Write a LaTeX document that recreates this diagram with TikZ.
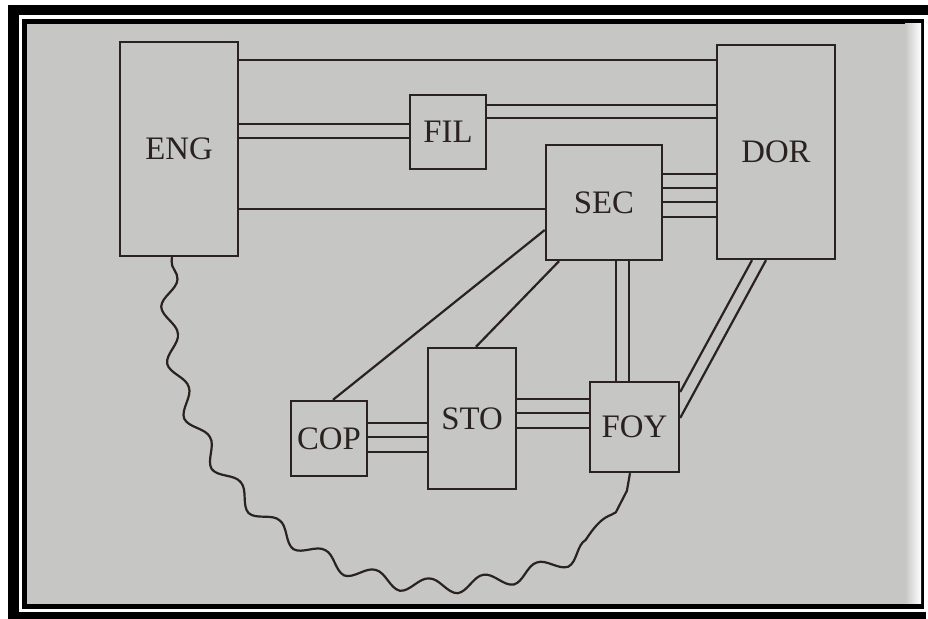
\documentclass[tikz,border=0pt]{standalone}
\usepackage{fontspec}
\setmainfont{Liberation Serif}
\usepackage{tikz}
\usetikzlibrary{decorations.pathmorphing}
\definecolor{paper}{RGB}{198,198,196}
\definecolor{ink}{RGB}{42,34,30}

\begin{document}
\begin{tikzpicture}[x=0.5pt,y=-0.5pt,
  room/.style={draw=ink,line width=1.2pt,inner sep=0pt,text=ink,font=\fontsize{16.4}{18}\selectfont},
  link/.style={draw=ink,line width=1.1pt},
  wavy/.style={draw=ink,line width=1.1pt,decorate,
    decoration={snake,segment length=28pt,amplitude=3.8pt,pre length=2pt,post length=9pt}}]
  \useasboundingbox (0,0) rectangle (928,619);
  \fill[white] (0,0) rectangle (928,619);
  \fill[black] (8,5) rectangle (928,15);
  \fill[black] (8,5) rectangle (19,619);
  \fill[black] (8,612) rectangle (926,619);
  \fill[black] (22,19) rectangle (924,609);
  \fill[paper] (27,24) rectangle (905,604);
  \shade[left color=paper,right color=white] (905,24) rectangle (921,604);

  \node[room,minimum width=59pt,minimum height=107pt] (eng) at (179,149) {ENG};
  \node[room,minimum width=38pt,minimum height=37pt] (fil) at (448,132) {FIL};
  \node[room,minimum width=59pt,minimum height=107pt] (dor) at (776,152) {DOR};
  \node[room,minimum width=58pt,minimum height=57.5pt] (sec) at (604,202.5) {SEC};
  \node[room,minimum width=38pt,minimum height=37.5pt] (cop) at (329,438.5) {COP};
  \node[room,minimum width=44pt,minimum height=70.5pt] (sto) at (472,418.5) {STO};
  \node[room,minimum width=44.5pt,minimum height=45pt] (foy) at (634.5,427) {FOY};

  \draw[link] (eng.east |- 0,60) -- (dor.west |- 0,60);
  \foreach \y in {124,138} \draw[link] (eng.east |- 0,\y) -- (fil.west |- 0,\y);
  \foreach \y in {105,118} \draw[link] (fil.east |- 0,\y) -- (dor.west |- 0,\y);
  \draw[link] (eng.east |- 0,209) -- (sec.west |- 0,209);
  \foreach \y in {174,188,202,217} \draw[link] (sec.east |- 0,\y) -- (dor.west |- 0,\y);
  \draw[link] (sec.west |- 0,230) -- (cop.north -| 333,0);
  \draw[link] (sec.south -| 559,0) -- (sto.north -| 476,0);
  \foreach \x in {616,629} \draw[link] (sec.south -| \x,0) -- (foy.north -| \x,0);
  \draw[link] (dor.south -| 752,0) -- (foy.east |- 0,392);
  \draw[link] (dor.south -| 766,0) -- (foy.east |- 0,418);
  \foreach \y in {423,437,452} \draw[link] (cop.east |- 0,\y) -- (sto.west |- 0,\y);
  \foreach \y in {399,413,428} \draw[link] (sto.east |- 0,\y) -- (foy.west |- 0,\y);
  \draw[wavy] (eng.south -| 172,0) .. controls (152,440) and (300,578) .. (450,572)
    .. controls (560,564) and (630,522) .. (foy.south -| 630,0);
\end{tikzpicture}
\end{document}
